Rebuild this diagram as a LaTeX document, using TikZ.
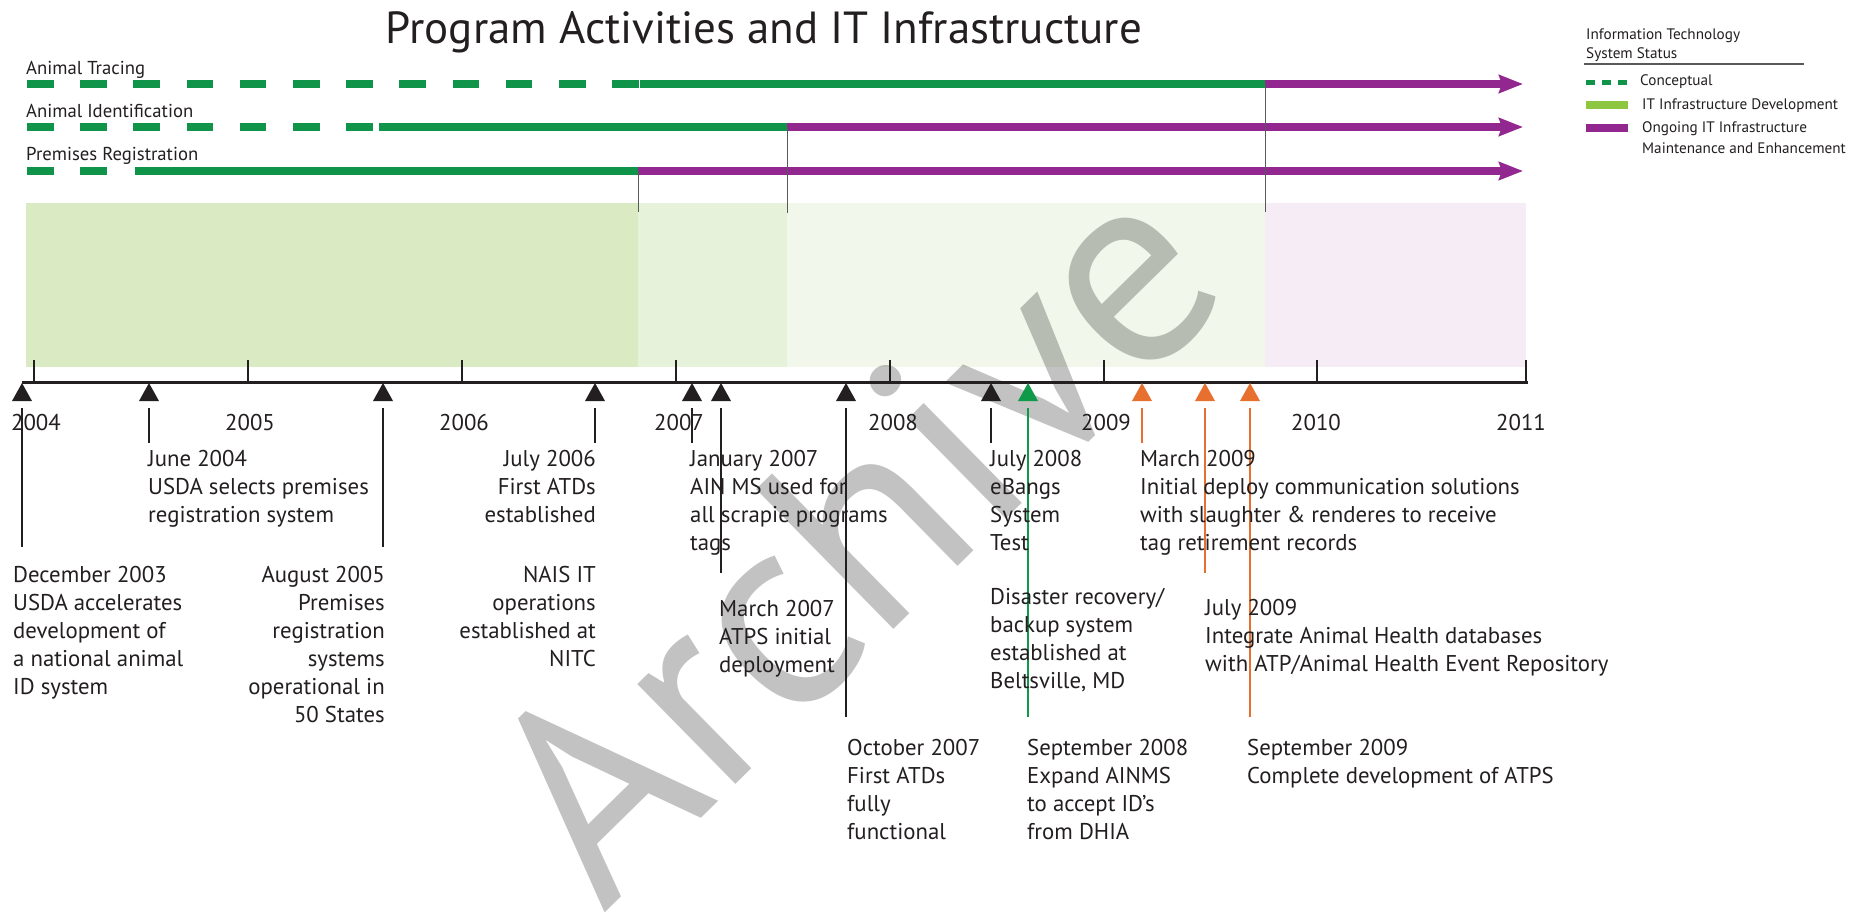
\documentclass[tikz,border=0pt]{standalone}
\usepackage{fontspec}
\setmainfont{PT Sans}
\usetikzlibrary{arrows.meta}
\definecolor{devgreen}{HTML}{10944A}
\definecolor{ongoing}{HTML}{92278F}
\definecolor{legendgreen}{HTML}{8DC63F}
\definecolor{orangeev}{HTML}{E8702E}
\definecolor{greenev}{HTML}{0E9A48}
\definecolor{inkblack}{HTML}{231F20}
\definecolor{bgA}{HTML}{DAEBC4}
\definecolor{bgB}{HTML}{E6F2DA}
\definecolor{bgC}{HTML}{F1F8EB}
\definecolor{bgD}{HTML}{F6ECF5}
\definecolor{wmgray}{HTML}{C2C2C2}
\newcommand{\descfont}{\fontsize{22.8}{28}\selectfont}
\newcommand{\legfont}{\fontsize{15.2}{19}\selectfont}
\tikzset{
	bar/.style={line width=7.5pt},
	conceptbar/.style={bar, devgreen, dash pattern=on 26.6pt off 26.6pt},
	devbar/.style={bar, devgreen},
	ongoingbar/.style={bar, ongoing, -{Stealth[length=24pt,width=18pt,inset=3pt]}},
	sep/.style={draw=black!65, line width=0.9pt},
	yeartick/.style={draw=inkblack, line width=2.5pt},
	lead/.style={line width=1.2pt},
	desc/.style={font=\descfont, text=inkblack, inner sep=0pt},
	rowlabel/.style={font=\fontsize{18.7}{19}\selectfont, text=inkblack, inner sep=0pt, anchor=base west},
	legtext/.style={font=\legfont, text=inkblack, inner sep=0pt, anchor=base west, align=left},
	evtri/.pic={\fill (0,0) -- (-10,18) -- (10,18) -- cycle;}
}
\begin{document}
\begin{tikzpicture}[x=1pt, y=-1pt]
	\useasboundingbox (0,0) rectangle (1871,916);
	\fill[white] (0,0) rectangle (1871,916);

	\node[font=\fontsize{45}{45}\selectfont, text=inkblack, inner sep=0pt, anchor=base] (title) at (764,43) {Program Activities and IT Infrastructure};

	\fill[bgA] (26,203) rectangle (638,367);
	\fill[bgB] (638,203) rectangle (787,367);
	\fill[bgC] (787,203) rectangle (1265,367);
	\fill[bgD] (1265,203) rectangle (1526,367);

	\begin{scope}[blend mode=multiply]
		\node[rotate=44.5, anchor=base west, inner sep=0pt, text=wmgray, font=\fontsize{280}{280}\selectfont] (wm) at (603.5,914.6) {Archive};
	\end{scope}

	\node[rowlabel] (tracing) at (26,74) {Animal Tracing};
	\node[rowlabel] (ident) at (26,117) {Animal Identification};
	\node[rowlabel] (premises) at (26,160) {Premises Registration};

	\draw[conceptbar] (27,84) -- (638.8,84);
	\draw[devbar] (640,84) -- (1265,84);
	\draw[ongoingbar] (1265,84) -- (1523,84);
	\draw[conceptbar] (27,127) -- (372.8,127);
	\draw[devbar] (379,127) -- (787,127);
	\draw[ongoingbar] (787,127) -- (1523,127);
	\draw[conceptbar] (27,171) -- (106.8,171);
	\draw[devbar] (135,171) -- (638,171);
	\draw[ongoingbar] (638,171) -- (1523,171);

	\draw[sep] (638,171) -- (638,212);
	\draw[sep] (787,127) -- (787,213);
	\draw[sep] (1265,84) -- (1265,212);

	\draw[inkblack, line width=3pt] (22,382) -- (1527.5,382);
	\foreach \yr/\x/\lx in {2004/34/36, 2005/248/250, 2006/462/464, 2007/676/679, 2008/890/893, 2009/1104/1106, 2010/1317/1316, 2011/1526/1521}
	{
		\draw[yeartick] (\x,360) -- (\x,382);
		\node[font=\descfont, text=inkblack, inner sep=0pt, anchor=base] (y\yr) at (\lx,430) {\yr};
	}

	\foreach \n/\x/\y/\c in {dec03/22/547/inkblack, jun04/149/443/inkblack, aug05/383/547/inkblack, jul06/595/443/inkblack, jan07/692/443/inkblack, mar07/721/573/inkblack, oct07/846/717/inkblack, jul08/991/443/inkblack, sep08/1028/717/greenev, mar09/1142/443/orangeev, jul09/1205/573/orangeev, sep09/1250/717/orangeev}
	{
		\pic[fill=\c] at (\x,383) {evtri};
		\coordinate (m-\n) at (\x,408);
		\coordinate (e-\n) at (\x,\y);
		\draw[lead, \c] (m-\n) -- (e-\n);
	}

	% base anchor of a multi-line node = baseline of its last line
	\node[desc, anchor=base west, align=left] (t-dec03) at (13,694) {December 2003\\USDA accelerates\\development of\\a national animal\\ID system};
	\node[desc, anchor=base west, align=left] (t-jun04) at (148,522) {June 2004\\USDA selects premises\\registration system};
	\node[desc, anchor=base east, align=right] (t-aug05) at (385,722) {August 2005\\Premises\\registration\\systems\\operational in\\50 States};
	\node[desc, anchor=base east, align=right] (t-jul06) at (596,522) {July 2006\\First ATDs\\established};
	\node[desc, anchor=base east, align=right] (t-nais) at (596,666) {NAIS IT\\operations\hspace*{6pt}\\established at\hspace*{6pt}\\NITC};
	\node[desc, anchor=base west, align=left] (t-jan07) at (690,550) {January 2007\\AIN MS used for\\all scrapie programs\\tags};
	\node[desc, anchor=base west, align=left] (t-mar07) at (719,672) {March 2007\\ATPS initial\\deployment};
	\node[desc, anchor=base west, align=left] (t-oct07) at (847,839) {October 2007\\First ATDs\\fully\\functional};
	\node[desc, anchor=base west, align=left] (t-jul08) at (990,550) {July 2008\\eBangs\\System\\Test};
	\node[desc, anchor=base west, align=left] (t-dr) at (990,688) {Disaster recovery/\\backup system\\established at\\Beltsville, MD};
	\node[desc, anchor=base west, align=left] (t-sep08) at (1027,839) {September 2008\\Expand AINMS\\to accept ID’s\\from DHIA};
	\node[desc, anchor=base west, align=left] (t-mar09) at (1140,550) {March 2009\\Initial deploy communication solutions\\with slaughter \& renderes to receive\\tag retirement records};
	\node[desc, anchor=base west, align=left] (t-jul09) at (1205,671) {July 2009\\Integrate Animal Health databases\\with ATP/Animal Health Event Repository};
	\node[desc, anchor=base west, align=left] (t-sep09) at (1247,783) {September 2009\\Complete development of ATPS};

	\node[legtext] (leghead) at (1586,58) {Information Technology\\System Status};
	\draw[black!65, line width=1.2pt] (1584,64) -- (1804,64);
	\draw[devgreen, line width=5pt, dash pattern=on 9pt off 7pt] (1586,82) -- (1627,82);
	\node[legtext] (legconcept) at (1640,85) {Conceptual};
	\draw[legendgreen, line width=8pt] (1586,105) -- (1628,105);
	\node[legtext] (legdev) at (1642,109) {IT Infrastructure Development};
	\draw[ongoing, line width=8pt] (1586,128) -- (1628,128);
	\node[legtext, font=\fontsize{15.2}{21}\selectfont] (legongoing) at (1642,153) {Ongoing IT Infrastructure\\Maintenance and Enhancement};
\end{tikzpicture}
\end{document}
